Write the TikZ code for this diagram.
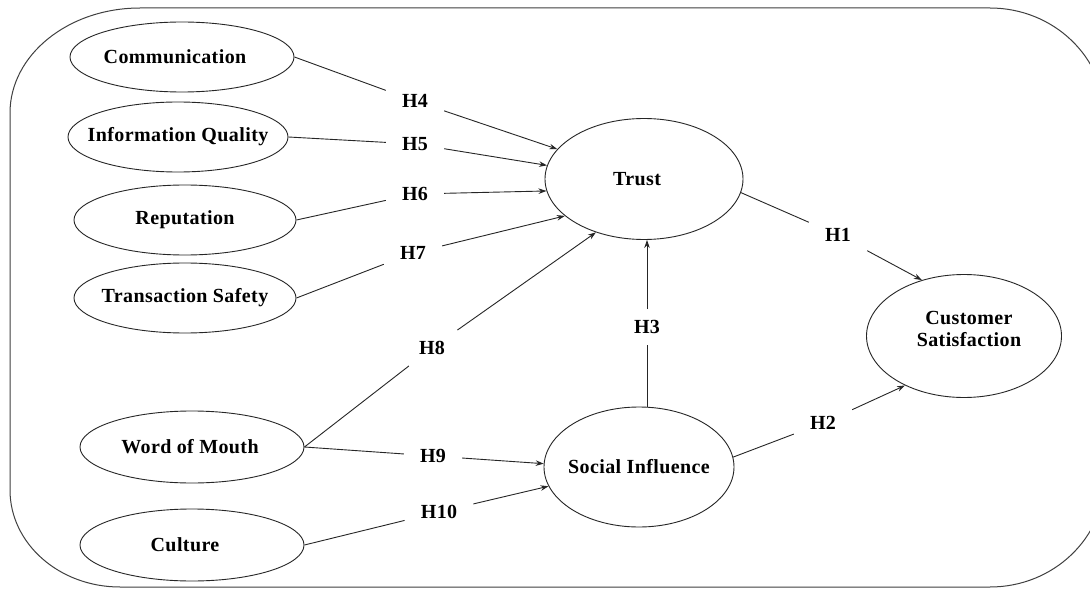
\documentclass[tikz,border=0pt]{standalone}
\usepackage{fontspec}
\setmainfont{Liberation Serif}[LetterSpace=2.0]
\usetikzlibrary{arrows.meta,shapes.geometric}
\begin{document}
\begin{tikzpicture}[x=1pt,y=-1pt,
  ov/.style={draw=black!85, line width=0.9pt, ellipse, inner sep=0pt, font=\fontsize{20}{22}\selectfont\bfseries},
  txt/.style={inner sep=0pt, align=center, font=\fontsize{20}{22}\selectfont\bfseries},
  hl/.style={inner xsep=16pt, inner ysep=11pt, font=\fontsize{20}{22}\selectfont\bfseries},
  ln/.style={draw=black!85, line width=0.9pt},
  arr/.style={ln, -{Stealth[length=8pt,width=5.5pt]}},
  frame/.style={draw=black!75, line width=1pt}]
\useasboundingbox (0,0) rectangle (1090,591);
\clip (0,0) rectangle (1090,591);
\fill[white] (0,0) rectangle (1090,591);

% outer frame
\draw[frame] (10,490) -- (10,113)
  arc[start angle=180,end angle=270,x radius=130,y radius=105] -- (990,8)
  arc[start angle=270,end angle=360,x radius=115,y radius=110] -- (1105,477)
  arc[start angle=0,end angle=90,x radius=115,y radius=110] -- (120,587)
  arc[start angle=90,end angle=180,x radius=110,y radius=97] -- cycle;

% left constructs
\node[ov, minimum width=224pt, minimum height=70pt] (comm) at (182,57) {\makebox[0pt]{\kern-14pt Communication}};
\node[ov, minimum width=220pt, minimum height=70pt] (iq) at (178,137) {\makebox[0pt]{Information Quality}};
\node[ov, minimum width=222pt, minimum height=70pt] (rep) at (185,220) {\makebox[0pt]{Reputation}};
\node[ov, minimum width=222pt, minimum height=70pt] (ts) at (185,298) {\makebox[0pt]{Transaction Safety}};
\node[ov, minimum width=224pt, minimum height=72pt] (wom) at (192,447) {\makebox[0pt]{\kern-4pt Word of Mouth}};
\node[ov, minimum width=224pt, minimum height=72pt] (cul) at (192,545) {\makebox[0pt]{\kern-14pt Culture}};

% central constructs
\node[ov, minimum width=198pt, minimum height=121pt] (trust) at (644,179) {\makebox[0pt]{\kern-14pt Trust}};
\node[ov, minimum width=190pt, minimum height=120pt] (si) at (639,467) {\makebox[0pt]{Social Influence}};
\node[ov, minimum width=195pt, minimum height=123pt] (cs) at (964,336) {};
\node[txt] (cstext) at (969,329) {Customer\\Satisfaction};

% hypothesis labels
\node[hl] (h4) at (415,101) {H4};
\node[hl] (h5) at (415,144) {H5};
\node[hl] (h6) at (415,194) {H6};
\node[hl] (h7) at (413,253) {H7};
\node[hl] (h8) at (432,348) {H8};
\node[hl] (h9) at (433,456) {H9};
\node[hl] (h10) at (439,512) {H10};
\node[hl] (h3) at (647,327) {H3};
\node[hl] (h1) at (838,235) {H1};
\node[hl] (h2) at (823,423) {H2};

% connectors
\draw[ln] (comm.east) -- (h4);
\draw[arr] (h4) -- (trust.161);
\draw[ln] (iq.east) -- (h5);
\draw[arr] (h5) -- (trust.172);
\draw[ln] (rep.east) -- (h6);
\draw[arr] (h6) -- (trust.187);
\draw[ln] (ts.east) -- (h7);
\draw[arr] (h7) -- (trust.205);
\draw[ln] (wom.east) -- (h8);
\draw[arr] (h8) -- (trust.228);
\draw[ln] (wom.east) -- (h9);
\draw[arr] (h9) -- (si.178);
\draw[ln] (cul.east) -- (h10);
\draw[arr] (h10) -- (si.192);
\draw[ln] (si.north -| h3) -- (h3);
\draw[arr] (h3) -- (h3 |- trust.south);
\draw[ln] (trust.352) -- (h1);
\draw[arr] (h1) -- (cs.127);
\draw[ln] (si.6) -- (h2);
\draw[arr] (h2) -- (cs.220);
\end{tikzpicture}
\end{document}
